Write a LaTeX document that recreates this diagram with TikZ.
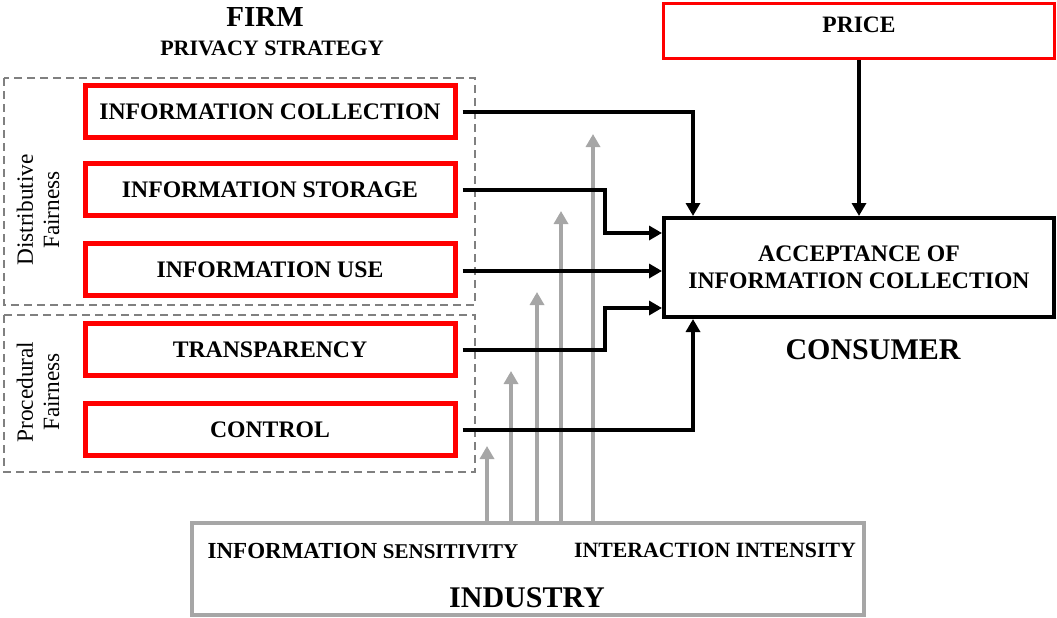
\documentclass[tikz,border=0pt]{standalone}
\usepackage{fontspec}
\setmainfont{Liberation Serif}
\usetikzlibrary{arrows.meta,calc}
\definecolor{redbox}{RGB}{255,0,0}
\definecolor{dashgray}{RGB}{128,128,128}
\definecolor{arrgray}{RGB}{166,166,166}
\newcommand{\fs}[1]{\fontsize{#1}{#1}\selectfont}
\tikzset{
  redstrat/.style={draw=redbox, line width=5pt, minimum width=370pt, minimum height=52pt, inner sep=0pt, font=\fs{23.7}\bfseries},
  groupbox/.style={draw=dashgray, line width=1.8pt, dash pattern=on 8pt off 5pt},
  blk/.style={line width=4pt, -{Triangle[length=13pt,width=14pt]}},
  gry/.style={draw=arrgray, line width=4pt, -{Triangle[length=13pt,width=14pt]}},
  sidelbl/.style={rotate=90, align=center, font=\fs{23.3}, inner sep=0pt}
}
\begin{document}
\begin{tikzpicture}[x=1pt,y=-1pt]
\useasboundingbox (0,0) rectangle (1057,618);
% titles
\node[font=\fs{29}\bfseries] (firm) at (265,17) {FIRM};
\node[font=\fs{22}\bfseries] (ps) at (272,48) {PRIVACY STRATEGY};
% dashed group boxes
\draw[groupbox] (4,78) rectangle (475,305);
\draw[groupbox] (4,315) rectangle (475,472);
\node[sidelbl] (dist) at (38,210) {Distributive\\[3pt]Fairness};
\node[sidelbl] (proc) at (38,392) {Procedural\\[3pt]Fairness};
% strategy boxes
\node[redstrat] (ic) at (270,111.5) {INFORMATION COLLECTION};
\node[redstrat] (is) at (270,189.5) {INFORMATION STORAGE};
\node[redstrat] (iu) at (270,269.5) {INFORMATION USE};
\node[redstrat] (tr) at (270,349.5) {TRANSPARENCY};
\node[redstrat] (ct) at (270,429.5) {CONTROL};
% price and acceptance
\node[draw=redbox, line width=3pt, minimum width=391pt, minimum height=55pt, inner sep=0pt, text depth=12pt, font=\fs{23.5}\bfseries] (price) at (859,31) {PRICE};
\node[draw=black, line width=4pt, minimum width=390pt, minimum height=99pt, inner sep=0pt, align=center, font=\fs{23.7}\bfseries] (acc) at (859,267.5) {ACCEPTANCE OF\\[3pt]INFORMATION COLLECTION};
\node[font=\fs{30}\bfseries] (cons) at (873,350) {CONSUMER};
% industry
\node[draw=arrgray, line width=4pt, minimum width=672pt, minimum height=92pt, inner sep=0pt] (ind) at (528,569) {};
\node[font=\fs{23}\bfseries] (isens) at (363,551) {INFORMATION {\fs{21}SENSITIVITY}};
\node[font=\fs{21.8}\bfseries] (iint) at (715,550) {INTERACTION INTENSITY};
\node[font=\fs{30}\bfseries] (indl) at (527,598) {INDUSTRY};
% gray arrows
\coordinate (g1) at (487,446);
\coordinate (g2) at (511,371);
\coordinate (g3) at (537,292);
\coordinate (g4) at (561,211);
\coordinate (g5) at (593,134);
\draw[gry] ([xshift=-41pt]ind.north) -- (g1);
\draw[gry] ([xshift=-17pt]ind.north) -- (g2);
\draw[gry] ([xshift=9pt]ind.north) -- (g3);
\draw[gry] ([xshift=33pt]ind.north) -- (g4);
\draw[gry] ([xshift=65pt]ind.north) -- (g5);
% black arrows
\draw[blk, shorten <=5pt] (ic.east) -| ([xshift=31pt]acc.north west);
\draw[blk, shorten <=5pt] (is.east) -| ([xshift=-57pt,yshift=34.5pt]acc.west) -- ([yshift=34.5pt]acc.west);
\draw[blk, shorten <=5pt] ([yshift=-1.5pt]iu.east) -- ([yshift=-1.5pt]iu.east -| acc.west);
\draw[blk, shorten <=5pt] (tr.east) -| ([xshift=-57pt,yshift=-40.5pt]acc.west) -- ([yshift=-40.5pt]acc.west);
\draw[blk, shorten <=5pt] (ct.east) -| ([xshift=31pt]acc.south west);
\draw[blk] (price.south) -- (acc.north);
\end{tikzpicture}
\end{document}
